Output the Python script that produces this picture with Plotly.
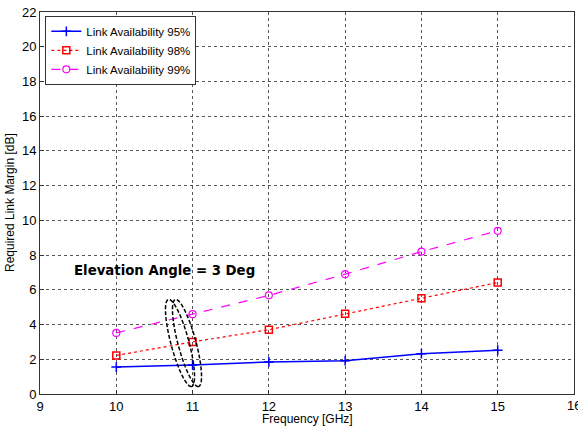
import numpy as np
import plotly.graph_objects as go

freq = [10, 11, 12, 13, 14, 15]
avail95 = [1.55, 1.67, 1.85, 1.92, 2.32, 2.52]
avail98 = [2.22, 3.0, 3.7, 4.62, 5.52, 6.42]
avail99 = [3.52, 4.6, 5.68, 6.9, 8.2, 9.4]
names = ["Link Availability 95%", "Link Availability 98%", "Link Availability 99%"]
x_ticks = [9, 10, 11, 12, 13, 14, 15, 16]
y_ticks = list(range(0, 23, 2))

FONT = "Liberation Sans, Arial, sans-serif"
W, H = 578, 427
L, R, T, B = 40, 4, 12, 33
pw, ph = W - L - R, H - T - B
x0, x1, y0, y1 = 9, 16, 0, 22

fig = go.Figure()
fig.add_trace(go.Scatter(x=freq, y=avail95, name=names[0], mode="lines+markers",
                         line=dict(color="#0000ff", width=1.5, dash="solid"),
                         marker=dict(symbol="cross-thin", size=7, line=dict(color="#0000ff", width=1.5))))
fig.add_trace(go.Scatter(x=freq, y=avail98, name=names[1], mode="lines+markers",
                         line=dict(color="#ff0000", width=1.2, dash="dot"),
                         marker=dict(symbol="square-open", size=7, color="#ff0000", line=dict(width=1.5))))
fig.add_trace(go.Scatter(x=freq, y=avail99, name=names[2], mode="lines+markers",
                         line=dict(color="#ff00ff", width=1.2, dash="dash"),
                         marker=dict(symbol="circle-open", size=7, color="#ff00ff", line=dict(width=1.2))))

# dashed ellipses (annotation shapes) built in pixel space then mapped to data
def ellipse_path(cxp, cyp, a, b, ang):
    t = np.linspace(0, 2 * np.pi, 73)
    ca, sa = np.cos(ang), np.sin(ang)
    px = cxp + a * np.cos(t) * ca - b * np.sin(t) * sa
    py = cyp + a * np.cos(t) * sa + b * np.sin(t) * ca
    dx = x0 + (px - L) / pw * (x1 - x0)
    dy = y1 - (py - T) / ph * (y1 - y0)
    pts = " L ".join(f"{u:.4f},{v:.4f}" for u, v in zip(dx, dy))
    return "M " + pts + " Z"

for cx in (180, 187):
    fig.add_shape(type="path", path=ellipse_path(cx, 343, 45, 9, np.deg2rad(75)),
                  line=dict(color="black", width=1.5, dash="4px,2px"), layer="above")

fig.add_annotation(x=9.42, y=7.1, xref="x", yref="y", xanchor="left", yanchor="middle",
                   text="<b>Elevation Angle = 3 Deg</b>", showarrow=False,
                   font=dict(family="DejaVu Sans, sans-serif", size=13.3, color="black"))

axis_common = dict(showline=True, linecolor="#333333", linewidth=1, mirror=True,
                   showgrid=True, gridcolor="#555555", griddash="dot", gridwidth=1,
                   ticks="inside", ticklen=4, tickcolor="#333333", zeroline=False,
                   automargin=False,
                   tickfont=dict(family=FONT, size=13, color="black"))

fig.update_xaxes(range=[x0, x1], tickvals=x_ticks,
                 ticktext=[str(v) if v != x1 else "" for v in x_ticks], **axis_common)
fig.update_yaxes(range=[y0, y1], tickvals=y_ticks, **axis_common)

# last x tick label, partly cut by the page edge as in the original
fig.add_annotation(x=x_ticks[-1], y=0, xref="x", yref="paper", yshift=-11,
                   text=str(x_ticks[-1]), showarrow=False, xanchor="center", yanchor="middle",
                   font=dict(family=FONT, size=13, color="black"))
fig.add_annotation(x=0.5, y=0, xref="paper", yref="paper", yshift=-25, borderpad=0,
                   text="Frequency [GHz]", showarrow=False, xanchor="center", yanchor="middle",
                   font=dict(family=FONT, size=12, color="black"))
fig.add_annotation(x=0, y=0.5, xref="paper", yref="paper", xshift=-30,
                   text="Required Link Margin [dB]", showarrow=False, textangle=-90,
                   xanchor="center", yanchor="middle",
                   font=dict(family=FONT, size=12, color="black"))

fig.update_layout(width=W, height=H, margin=dict(l=L, r=R, t=T, b=B),
                  paper_bgcolor="white", plot_bgcolor="white", showlegend=True,
                  legend=dict(x=0.01, y=0.99, xanchor="left", yanchor="top",
                              bgcolor="white", bordercolor="#333333", borderwidth=1,
                              font=dict(family=FONT, size=11.5, color="black"),
                              tracegroupgap=0, itemwidth=30))

fig.write_html("out.html", config={"displayModeBar": False},
               post_script="document.body.style.margin='0';document.body.style.overflow='hidden';")
